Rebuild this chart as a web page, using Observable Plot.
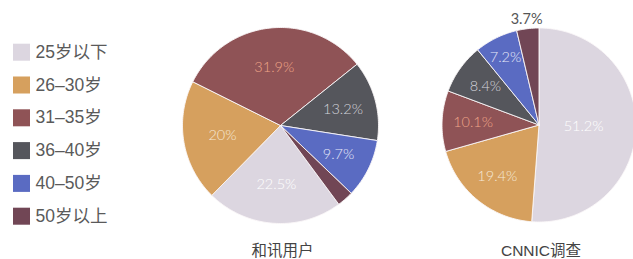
<!DOCTYPE html>
<html>
<head>
<meta charset="utf-8">
<script src="https://cdn.jsdelivr.net/npm/d3@7"></script>
<script src="https://cdn.jsdelivr.net/npm/@observablehq/plot@0.6"></script>
<style>
  html, body { margin: 0; padding: 0; background: #fff; }
  #chart svg { display: block; }
</style>
</head>
<body>
<div id="chart"></div>
<script>
// ---- data ----
const categories = ["25岁以下", "26–30岁", "31–35岁", "36–40岁", "40–50岁", "50岁以上"];
const colors = ["#dcd6e0", "#d6a05e", "#8f5356", "#55565c", "#5a6bc2", "#714655"];
const labelColors = ["#ffffff", "#f5e8d6", "#eea487", "#d2d2da", "#e6e8f8", "#555555"];
const hexunValues = [22.5, 20, 31.9, 13.2, 9.7, 2.7];
const hexunLabels = ["22.5%", "20%", "31.9%", "13.2%", "9.7%", ""];
const cnnicValues = [51.2, 19.4, 10.1, 8.4, 7.2, 3.7];
const cnnicLabels = ["51.2%", "19.4%", "10.1%", "8.4%", "7.2%", "3.7%"];
const pieTitles = ["和讯用户", "CNNIC调查"];

// ---- layout ----
const W = 633, H = 259;
const pies = [
  {values: hexunValues, labels: hexunLabels, cx: 280, cy: 125, r: 98, start: 143.5, lr: 0.6, title: pieTitles[0]},
  {values: cnnicValues, labels: cnnicLabels, cx: 538.5, cy: 124.5, r: 97, start: 0, lr: 0.68, title: pieTitles[1]}
];

const polys = [];
const labels = [];
pies.forEach((p, pi) => {
  const a0 = p.start * Math.PI / 180;
  const arcs = d3.pie().sort(null).startAngle(a0).endAngle(a0 + 2 * Math.PI)(p.values);
  arcs.forEach((a, i) => {
    const key = pi + "-" + i;
    const pt = (ang, rr) => ({x: p.cx + rr * Math.sin(ang), y: p.cy - rr * Math.cos(ang)});
    polys.push({key, cat: categories[i], ...pt(0, 0)});
    const n = Math.max(2, Math.ceil((a.endAngle - a.startAngle) / 0.02));
    for (let k = 0; k <= n; k++) {
      const ang = a.startAngle + (a.endAngle - a.startAngle) * k / n;
      polys.push({key, cat: categories[i], ...pt(ang, p.r)});
    }
    polys.push({key, cat: categories[i], ...pt(0, 0)});
    if (p.labels[i]) {
      const mid = (a.startAngle + a.endAngle) / 2;
      const frac = p.values[i] / 100;
      let lr = p.lr;
      if (frac > 0.4) lr = 0.46;
      if (frac < 0.05) lr = 1.1;
      else if (frac < 0.08) lr = 0.78;
      else if (frac < 0.15 && pi === 0) lr = 0.66;
      labels.push({text: p.labels[i], color: labelColors[i], outside: frac < 0.05, ...pt(mid, p.r * lr)});
    }
  });
});

const legend = categories.map((c, i) => ({cat: c, x: 21, y: 51.7 + i * 32.8}));
const titles = pies.map(p => ({text: p.title, x: p.cx + 2, y: 251}));

const plot = Plot.plot({
  width: W,
  height: H,
  margin: 0,
  x: {domain: [0, W], axis: null},
  y: {domain: [H, 0], axis: null},
  color: {domain: categories, range: colors},
  marks: [
    Plot.line(polys, {x: "x", y: "y", z: "key", fill: "cat", stroke: "#fbf7f8", strokeWidth: 0.9, strokeLinejoin: "round", curve: "linear"}),
    ...labels.map(l => Plot.text([l], {x: "x", y: "y", text: "text", fill: l.color, fontSize: 14.5, fontFamily: "Lato, 'DejaVu Sans', sans-serif", fontWeight: l.outside ? 400 : 300})),
    Plot.dot(legend, {x: "x", y: "y", fill: "cat", symbol: "square", r: 9.6, stroke: null}),
    Plot.text(legend, {x: 35, y: "y", text: "cat", textAnchor: "start", fill: "#5a5a5a", fontSize: 17.5, fontFamily: "'Liberation Sans', 'Noto Sans CJK SC', sans-serif"}),
    Plot.text(titles, {x: "x", y: "y", text: "text", fill: "#444", fontSize: 15.5, fontFamily: "'Liberation Sans', 'Noto Sans CJK SC', sans-serif"})
  ]
});
document.getElementById("chart").append(plot);
</script>
</body>
</html>
